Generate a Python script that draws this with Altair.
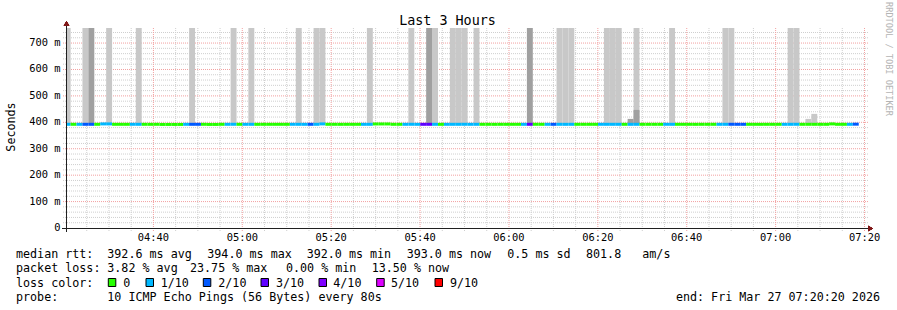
import altair as alt
import pandas as pd

# ---------------- data ----------------
SAMPLE_START = "2026-03-27T04:20:02"   # start of first 80 s sample
STEP_SECONDS = 80
VIEW_START = "2026-03-27T04:20:20"
VIEW_END = "2026-03-27T07:20:20"

LOSS_LABELS = ["0", "1/10", "2/10", "3/10", "4/10", "5/10", "9/10"]
LOSS_COLORS = ["#26ff00", "#00b8ff", "#0059ff", "#5e00ff", "#7e00ff", "#dd00ff", "#ff0000"]

# median rtt per sample (ms)
median_ms = [
    392.5, 392.5, 392.5, 392.5, 392.5, 392.5, 394.0, 394.0, 392.5, 392.5,
    392.5, 392.6, 392.5, 392.5, 392.4, 392.5, 392.0, 392.0, 392.0, 392.0,
    392.5, 392.5, 392.5, 392.5, 392.0, 392.0, 392.5, 392.5, 392.6, 392.5,
    392.5, 392.5, 392.4, 392.5, 392.5, 392.5, 392.5, 392.5, 392.6, 392.5,
    392.5, 392.5, 392.5, 394.0, 392.5, 392.5, 392.4, 392.5, 392.5, 392.5,
    392.5, 392.5, 393.8, 393.8, 393.8, 392.5, 392.5, 392.5, 392.6, 392.5,
    392.5, 392.5, 392.5, 392.4, 392.5, 392.5, 392.5, 392.6, 392.5, 392.5,
    392.5, 392.5, 392.4, 392.5, 392.5, 392.5, 392.5, 392.5, 392.5, 392.6,
    392.5, 392.5, 392.5, 392.5, 392.4, 392.5, 392.5, 392.5, 392.5, 392.5,
    392.6, 392.5, 392.5, 392.5, 392.5, 392.4, 392.5, 392.5, 392.5, 392.5,
    392.5, 392.6, 392.5, 392.5, 392.5, 392.5, 392.4, 392.5, 392.5, 392.5,
    392.5, 392.5, 392.6, 392.5, 392.5, 392.5, 392.5, 392.4, 392.5, 392.5,
    392.5, 392.5, 392.5, 392.6, 392.5, 392.5, 392.5, 392.5, 392.5, 394.0,
    392.5, 392.5, 392.5, 393.0, None,
]

# lost pings (out of 10) per sample -> index into LOSS_LABELS
loss_level = [
    1, 0, 1, 2, 2, 0, 1, 1, 0, 0,
    0, 1, 1, 0, 0, 0, 0, 0, 0, 0,
    1, 2, 2, 0, 0, 0, 0, 1, 1, 0,
    1, 1, 0, 0, 0, 0, 0, 0, 1, 1,
    1, 2, 1, 1, 0, 0, 0, 0, 0, 0,
    1, 1, 0, 0, 0, 0, 0, 1, 1, 1,
    3, 3, 1, 0, 1, 1, 1, 1, 1, 1,
    0, 0, 0, 0, 0, 0, 0, 1, 3, 0,
    0, 1, 2, 1, 1, 1, 0, 0, 0, 0,
    1, 1, 1, 1, 0, 1, 1, 0, 0, 0,
    0, 1, 1, 0, 0, 0, 0, 0, 0, 0,
    1, 1, 2, 2, 2, 0, 0, 0, 0, 0,
    0, 1, 1, 1, 0, 0, 0, 0, 0, 0,
    0, 0, 1, 2, None,
]

# smoke (spread of individual pings), light and dark layers: sample index and top (ms)
smoke_light_idx = [0, 3, 7, 12, 21, 28, 31, 39, 42, 43, 51, 58, 62, 65, 66, 67, 69,
                   83, 84, 85, 91, 92, 93, 96, 102, 111, 112, 122, 123, 125, 126]
smoke_light_top = [800, 800, 800, 800, 800, 800, 800, 800, 800, 800, 800, 800, 800, 800, 800, 800, 800,
                   800, 800, 800, 800, 800, 800, 800, 800, 800, 800, 800, 800, 413, 432]
smoke_dark_idx = [4, 61, 78, 95, 96]
smoke_dark_top = [800, 800, 800, 413, 447]

Y_MAX = 757
y_major = [0, 100, 200, 300, 400, 500, 600, 700]
y_minor = [v for v in range(20, 760, 20) if v % 100 != 0]
x_major = ["04:40", "05:00", "05:20", "05:40", "06:00", "06:20", "06:40", "07:00", "07:20"]

title_text = "Last 3 Hours"
credit_text = "RRDTOOL / TOBI OETIKER"
y_title = "Seconds"
legend_rows = [
    ["median rtt:", "392.6 ms avg", "394.0 ms max", "392.0 ms min", "393.0 ms now", "0.5 ms sd", "801.8", "am/s"],
    ["packet loss:", "3.82 % avg", "23.75 % max", "0.00 % min", "13.50 % now"],
    ["loss color:"],
    ["probe:", "10 ICMP Echo Pings (56 Bytes) every 80s"],
]
end_text = "end: Fri Mar 27 07:20:20 2026"

# ---------------- layout (pixels) ----------------
PAD_L, PAD_T, W, H = 66, 28, 800, 200
legend_x = [
    [16, 107.3, 207.3, 306.7, 406.7, 507.3, 586, 642.3],
    [16, 107.3, 190, 286, 371.7],
    [16],
    [16, 107.3],
]
legend_base = [258.3, 272.4, 286.6, 300.7]
swatch_x = [108.3, 146, 203.3, 261, 319, 376.7, 435]
swatch_label_x = [123.3, 160.7, 218.3, 276, 333.3, 391, 450]
FONT = "DejaVu Sans Mono"


def ms(ts):
    return int(pd.Timestamp(ts).value // 1_000_000)


t0 = pd.Timestamp(SAMPLE_START)
step = pd.Timedelta(seconds=STEP_SECONDS)
N = len(median_ms)

samples = pd.DataFrame({
    "t": [ms(t0 + step * j) for j in range(N)],
    "t2": [ms(t0 + step * (j + 1)) for j in range(N)],
    "median": median_ms,
    "loss": [LOSS_LABELS[v] if v is not None else None for v in loss_level],
}).dropna()

light = pd.DataFrame({
    "t": [ms(t0 + step * j) for j in smoke_light_idx],
    "t2": [ms(t0 + step * (j + 1)) for j in smoke_light_idx],
    "lo": [median_ms[j] for j in smoke_light_idx],
    "hi": smoke_light_top,
})
dark = pd.DataFrame({
    "t": [ms(t0 + step * j) for j in smoke_dark_idx],
    "t2": [ms(t0 + step * (j + 1)) for j in smoke_dark_idx],
    "lo": [median_ms[j] for j in smoke_dark_idx],
    "hi": smoke_dark_top,
})

day = "2026-03-27T"
xmaj = pd.DataFrame({"t": [ms(day + s + ":00") for s in x_major], "lab": x_major})
xmin_times = pd.date_range(day + "04:25:00", day + "07:20:00", freq="5min")
xmin = pd.DataFrame({"t": [ms(t) for t in xmin_times if t.minute % 20 != 0]})
ymaj = pd.DataFrame({"v": y_major,
                     "lab": ["0\u00a0\u00a0" if v == 0 else f"{v} m" for v in y_major]})
ymin = pd.DataFrame({"v": y_minor})

xscale = alt.Scale(type="utc", domain=[ms(VIEW_START), ms(VIEW_END)])
yscale = alt.Scale(domain=[0, Y_MAX], nice=False, zero=False)


def X(field="t:T"):
    return alt.X(field, scale=xscale, axis=None)


def Y(field):
    return alt.Y(field, scale=yscale, axis=None)


MINOR_C = "#cfcfcf"
MAJOR_C = "#f2a0a0"

vgrid_minor = alt.Chart(xmin).mark_rule(color=MINOR_C, strokeDash=[1, 1], strokeWidth=1).encode(
    x=X(), y=alt.value(0), y2=alt.value(H + 3))
vgrid_major = alt.Chart(xmaj).mark_rule(color=MAJOR_C, strokeDash=[1, 1], strokeWidth=1).encode(
    x=X(), y=alt.value(0), y2=alt.value(H + 3))
hgrid_minor = alt.Chart(ymin).mark_rule(color=MINOR_C, strokeDash=[1, 1], strokeWidth=1).encode(
    y=Y("v:Q"), x=alt.value(-3), x2=alt.value(W + 2))
hgrid_major = alt.Chart(ymaj[ymaj["v"] > 0]).mark_rule(color=MAJOR_C, strokeDash=[1, 1], strokeWidth=1).encode(
    y=Y("v:Q"), x=alt.value(-3), x2=alt.value(W + 2))

smoke_light = alt.Chart(light).mark_rect(color="#c8c8c8", clip=True).encode(
    x=X(), x2="t2:T", y=Y("lo:Q"), y2="hi:Q")
smoke_dark = alt.Chart(dark).mark_rect(color="#a0a0a0", clip=True).encode(
    x=X(), x2="t2:T", y=Y("lo:Q"), y2="hi:Q")

median_line = alt.Chart(samples).mark_rule(strokeWidth=3, clip=True).encode(
    x=X(), x2="t2:T", y=Y("median:Q"),
    color=alt.Color("loss:N", scale=alt.Scale(domain=LOSS_LABELS, range=LOSS_COLORS), legend=None),
)

# tick labels through the scales
x_labels = alt.Chart(xmaj).mark_text(
    font=FONT, fontSize=10.4, align="center", baseline="alphabetic", color="#000000").encode(
    x=X(), y=alt.value(241.2 - PAD_T), text="lab:N")
y_labels = alt.Chart(ymaj).mark_text(
    font=FONT, fontSize=10.4, align="right", baseline="middle", color="#000000").encode(
    y=Y("v:Q"), x=alt.value(60.5 - PAD_L), text="lab:N")

AXIS_C = "#202020"
ARROW_C = "#801818"
x_axis_line = alt.Chart(xmaj).mark_rule(color=AXIS_C, strokeWidth=1).encode(
    x=alt.value(-3.5), x2=alt.value(W + 3), y=alt.value(H + 0.5))
y_axis_line = alt.Chart(xmaj).mark_rule(color=AXIS_C, strokeWidth=1).encode(
    x=alt.value(0.5), y=alt.value(H + 3.5), y2=alt.value(-3))
x_arrow = alt.Chart(xmaj).mark_point(shape="triangle-right", filled=True, color=ARROW_C, size=30, opacity=1).encode(
    x=alt.value(W + 4.5), y=alt.value(H + 0.5))
y_arrow = alt.Chart(xmaj).mark_point(shape="triangle-up", filled=True, color=ARROW_C, size=30, opacity=1).encode(
    x=alt.value(0.5), y=alt.value(-4.5))

# text overlays
leg_rows = []
for r, (texts, xs) in enumerate(zip(legend_rows, legend_x)):
    for txt, px in zip(texts, xs):
        leg_rows.append({"txt": txt, "px": px - PAD_L, "py": legend_base[r] - PAD_T})
for lab, px in zip(LOSS_LABELS, swatch_label_x):
    leg_rows.append({"txt": lab, "px": px - PAD_L, "py": legend_base[2] - PAD_T})
leg_df = pd.DataFrame(leg_rows)

legend_text = alt.Chart(leg_df).mark_text(
    font=FONT, fontSize=11.7, align="left", baseline="alphabetic", color="#000000").encode(
    x=alt.X("px:Q", scale=None), y=alt.Y("py:Q", scale=None), text="txt:N")

sw_df = pd.DataFrame({
    "x1": [x - PAD_L for x in swatch_x],
    "x2": [x - PAD_L + 7.5 for x in swatch_x],
    "y1": [278.5 - PAD_T] * len(swatch_x),
    "y2": [286.5 - PAD_T] * len(swatch_x),
    "lab": LOSS_LABELS,
})
swatches = alt.Chart(sw_df).mark_rect(stroke="#000000", strokeWidth=1).encode(
    x=alt.X("x1:Q", scale=None), x2="x2:Q", y=alt.Y("y1:Q", scale=None), y2="y2:Q",
    color=alt.Color("lab:N", scale=alt.Scale(domain=LOSS_LABELS, range=LOSS_COLORS), legend=None))

end_df = pd.DataFrame({"txt": [end_text], "px": [880 - PAD_L], "py": [legend_base[3] - PAD_T]})
end_mark = alt.Chart(end_df).mark_text(
    font=FONT, fontSize=11.7, align="right", baseline="alphabetic", color="#000000").encode(
    x=alt.X("px:Q", scale=None), y=alt.Y("py:Q", scale=None), text="txt:N")

title_df = pd.DataFrame({"txt": [title_text], "px": [447.5 - PAD_L], "py": [24.5 - PAD_T]})
title_mark = alt.Chart(title_df).mark_text(
    font=FONT, fontSize=13.4, align="center", baseline="alphabetic", color="#000000").encode(
    x=alt.X("px:Q", scale=None), y=alt.Y("py:Q", scale=None), text="txt:N")

ytitle_df = pd.DataFrame({"txt": [y_title], "px": [11 - PAD_L], "py": [127 - PAD_T]})
ytitle_mark = alt.Chart(ytitle_df).mark_text(
    font=FONT, fontSize=11.7, align="center", baseline="middle", angle=270, color="#000000").encode(
    x=alt.X("px:Q", scale=None), y=alt.Y("py:Q", scale=None), text="txt:N")

credit_df = pd.DataFrame({"txt": [credit_text], "px": [888.5 - PAD_L], "py": [59 - PAD_T]})
credit_mark = alt.Chart(credit_df).mark_text(
    font=FONT, fontSize=8.6, align="center", baseline="middle", angle=90, color="#b4b4b4").encode(
    x=alt.X("px:Q", scale=None), y=alt.Y("py:Q", scale=None), text="txt:N")

chart = alt.layer(
    vgrid_minor, hgrid_minor, vgrid_major, hgrid_major,
    smoke_light, smoke_dark, median_line,
    x_axis_line, y_axis_line, x_arrow, y_arrow, x_labels, y_labels,
    title_mark, ytitle_mark, credit_mark, legend_text, swatches, end_mark,
).properties(
    width=W, height=H,
    autosize=alt.AutoSizeParams(type="none"),
    padding={"left": PAD_L, "top": PAD_T, "right": 897 - PAD_L - W, "bottom": 310 - PAD_T - H},
    background="#ffffff",
).configure_view(stroke=None)

chart.save("out.html", embed_options={"renderer": "svg", "actions": False})
